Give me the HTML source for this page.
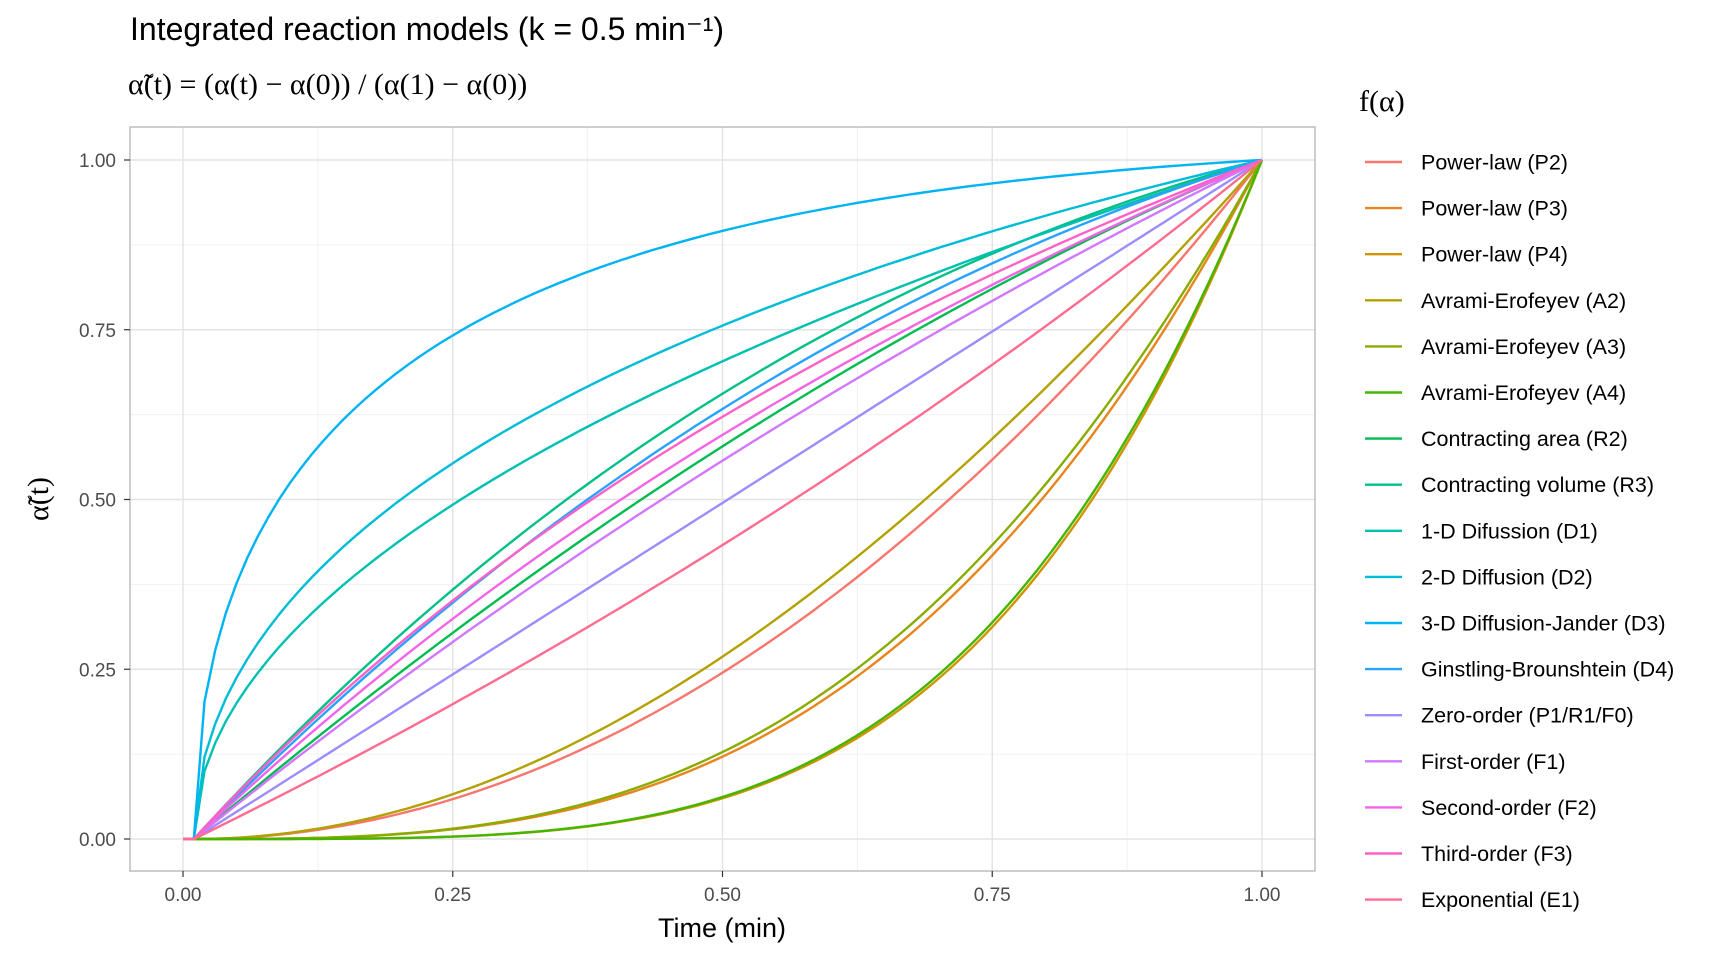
<!DOCTYPE html>
<html><head><meta charset="utf-8">
<style>
html,body{margin:0;padding:0;background:#fff;}
svg{display:block;font-family:"Liberation Sans",sans-serif;}
</style></head>
<body>
<svg id="chart" width="1728" height="960" viewBox="0 0 1728 960" xmlns="http://www.w3.org/2000/svg">
  <text x="130" y="40" font-size="32" fill="#000">Integrated reaction models (k = 0.5 min⁻¹)</text>
  <text x="128" y="94" font-size="30" fill="#000" font-family="'Liberation Serif',serif">α̃(t) = (α(t) − α(0)) / (α(1) − α(0))</text>
  <rect x="130" y="127" width="1185" height="744" fill="#fff" stroke="none"/>
  <g id="grid"></g>
  <g id="series"></g>
  <rect x="130" y="127" width="1185" height="744" fill="none" stroke="#b3b3b3" stroke-width="1.3"/>
  <g id="xticks"></g>
  <g id="yticks"></g>
  <text x="722" y="937" font-size="27" text-anchor="middle" fill="#000">Time (min)</text>
  <text transform="translate(48,499) rotate(-90)" font-size="30" text-anchor="middle" fill="#000" font-family="'Liberation Serif',serif">α̃(t)</text>
  <text x="1359" y="111" font-size="30" fill="#000" font-family="'Liberation Serif',serif">f(α)</text>
  <g id="legend"></g>
</svg>
<script>
const categories = ["Power-law (P2)","Power-law (P3)","Power-law (P4)","Avrami-Erofeyev (A2)","Avrami-Erofeyev (A3)","Avrami-Erofeyev (A4)","Contracting area (R2)","Contracting volume (R3)","1-D Difussion (D1)","2-D Diffusion (D2)","3-D Diffusion-Jander (D3)","Ginstling-Brounshtein (D4)","Zero-order (P1/R1/F0)","First-order (F1)","Second-order (F2)","Third-order (F3)","Exponential (E1)"];
const modelCodes = ["P2","P3","P4","A2","A3","A4","R2","R3","D1","D2","D3","D4","F0","F1","F2","F3","E1"];
const colors = ["#F8766D","#E7851E","#D09400","#B2A100","#89AC00","#45B500","#00BC51","#00C087","#00C0B2","#00BCD6","#00B3F2","#29A3FF","#9C8DFF","#D277FF","#F166E8","#FF61C7","#FF6C91"];
const rateK = [0.5];
const xTicks = [0, 0.25, 0.5, 0.75, 1];
const xTickLabels = ["0.00","0.25","0.50","0.75","1.00"];
const yTicks = [0, 0.25, 0.5, 0.75, 1];
const yTickLabels = ["0.00","0.25","0.50","0.75","1.00"];
const timeOffset = [0.01];

const NS="http://www.w3.org/2000/svg";
const X0=183, X1=1262, Y0=839, Y1=160;
const xs = v => X0 + (X1-X0)*v;
const ys = v => Y0 - (Y0-Y1)*v;

function solve(g, kt){ let lo=0, hi=0.999999; for(let i=0;i<60;i++){ const m=(lo+hi)/2; if(g(m)<kt) lo=m; else hi=m;} return (lo+hi)/2; }
function alpha(code, kt){
  switch(code){
    case "P2": return Math.pow(kt,2);
    case "P3": return Math.pow(kt,3);
    case "P4": return Math.pow(kt,4);
    case "A2": return 1-Math.exp(-Math.pow(kt,2));
    case "A3": return 1-Math.exp(-Math.pow(kt,3));
    case "A4": return 1-Math.exp(-Math.pow(kt,4));
    case "R2": return 1-Math.pow(1-kt,2);
    case "R3": return 1-Math.pow(1-kt,3);
    case "D1": return Math.sqrt(kt);
    case "D2": return solve(a=>(1-a)*Math.log(1-a)+a, kt);
    case "D3": return 1-Math.pow(1-Math.sqrt(kt),3);
    case "D4": return 1-Math.pow(1-kt,2.7);
    case "F0": return kt;
    case "F1": return 1-Math.exp(-kt);
    case "F2": return kt/(1+kt);
    case "F3": return 1-Math.pow(1+2*kt,-0.5);
    case "E1": return Math.exp(kt);
  }
}

const grid=document.getElementById('grid');
function gl(x1,y1,x2,y2,c,w,name){
  const l=document.createElementNS(NS,'line');
  l.setAttribute('x1',x1);l.setAttribute('y1',y1);l.setAttribute('x2',x2);l.setAttribute('y2',y2);
  l.setAttribute('stroke',c);l.setAttribute('stroke-width',w);
  
  
  grid.appendChild(l);
}
for(let i=0;i<xTicks.length-1;i++){ const m=(xTicks[i]+xTicks[i+1])/2; gl(xs(m),127,xs(m),871,"#f0f0f0",1,'x-minor-gridline'); }
for(let i=0;i<yTicks.length-1;i++){ const m=(yTicks[i]+yTicks[i+1])/2; gl(130,ys(m),1315,ys(m),"#f0f0f0",1,'y-minor-gridline'); }
xTicks.forEach(v=>gl(xs(v),127,xs(v),871,"#e3e3e3",1.4,'x-major-gridline'));
yTicks.forEach(v=>gl(130,ys(v),1315,ys(v),"#e3e3e3",1.4,'y-major-gridline'));

const xg=document.getElementById('xticks');
xTicks.forEach((v,i)=>{
  const t=document.createElementNS(NS,'line');
  t.setAttribute('x1',xs(v));t.setAttribute('x2',xs(v));t.setAttribute('y1',871);t.setAttribute('y2',877);t.setAttribute('stroke','#333');t.setAttribute('stroke-width',1.2);
  
  
  xg.appendChild(t);
  const tx=document.createElementNS(NS,'text');
  tx.setAttribute('x',xs(v));tx.setAttribute('y',901);tx.setAttribute('text-anchor','middle');tx.setAttribute('font-size',19);tx.setAttribute('fill','#4d4d4d');
  tx.textContent=xTickLabels[i];
  
  
  xg.appendChild(tx);
});
const yg=document.getElementById('yticks');
yTicks.forEach((v,i)=>{
  const t=document.createElementNS(NS,'line');
  t.setAttribute('x1',124);t.setAttribute('x2',130);t.setAttribute('y1',ys(v));t.setAttribute('y2',ys(v));t.setAttribute('stroke','#333');t.setAttribute('stroke-width',1.2);
  
  
  yg.appendChild(t);
  const tx=document.createElementNS(NS,'text');
  tx.setAttribute('x',116);tx.setAttribute('y',ys(v)+7);tx.setAttribute('text-anchor','end');tx.setAttribute('font-size',19);tx.setAttribute('fill','#4d4d4d');
  tx.textContent=yTickLabels[i];
  
  
  yg.appendChild(tx);
});

const sg=document.getElementById('series');
const k=rateK[0], off=timeOffset[0];
modelCodes.forEach((code,si)=>{
  const a0=alpha(code,0), a1=alpha(code,k);
  const pts=[[xs(0),ys(0)]];
  for(let i=0;i<=100;i++){
    const s=i/100;
    const v=(alpha(code,k*s)-a0)/(a1-a0);
    pts.push([xs(off+s*(1-off)),ys(v)]);
  }
  const p=document.createElementNS(NS,'polyline');
  p.setAttribute('points',pts.map(q=>q[0].toFixed(1)+','+q[1].toFixed(1)).join(' '));
  p.setAttribute('fill','none');p.setAttribute('stroke',colors[si]);p.setAttribute('stroke-width',2.4);p.setAttribute('stroke-linejoin','round');
  
  
  sg.appendChild(p);
});

const lg=document.getElementById('legend');
categories.forEach((name,i)=>{
  const y=162+i*46.1;
  const g=document.createElementNS(NS,'g');
  
  
  const l=document.createElementNS(NS,'line');
  l.setAttribute('x1',1365);l.setAttribute('x2',1402);l.setAttribute('y1',y);l.setAttribute('y2',y);l.setAttribute('stroke',colors[i]);l.setAttribute('stroke-width',2.4);
  
  
  g.appendChild(l);
  const t=document.createElementNS(NS,'text');
  t.setAttribute('x',1421);t.setAttribute('y',y+7.5);t.setAttribute('font-size',21.5);t.setAttribute('fill','#000');
  t.textContent=name;
  
  
  g.appendChild(t);
  lg.appendChild(g);
});
</script>
</body></html>
